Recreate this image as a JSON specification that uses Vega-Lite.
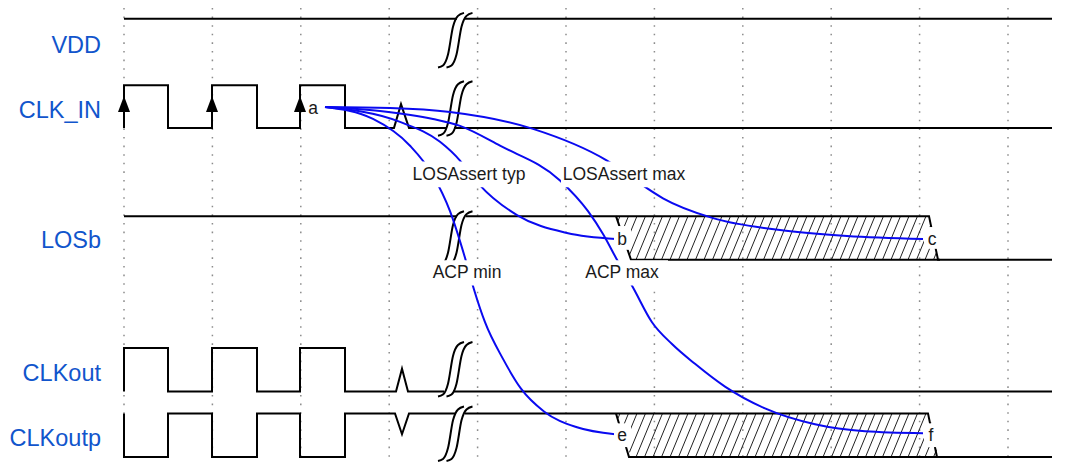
{
"$schema": "https://vega.github.io/schema/vega-lite/v6.json",
"width": 1088, "height": 465, "padding": 0,
"autosize": {"type": "fit", "contains": "padding"},
"background": "white",
"config": {"view": {"stroke": null}},
"datasets": {
"grid": [{"x":124,"y":8,"y2":465},{"x":212.4,"y":8,"y2":465},{"x":300.8,"y":8,"y2":465},{"x":389.2,"y":8,"y2":465},{"x":477.6,"y":8,"y2":465},{"x":566,"y":8,"y2":465},{"x":654.4,"y":8,"y2":465},{"x":742.8,"y":8,"y2":465},{"x":831.2,"y":8,"y2":465},{"x":919.6,"y":8,"y2":465},{"x":1008,"y":8,"y2":465}],
"hatch": [
{"x":620,"y":218,"x2":617.8,"y2":223.3},{"x":628.5,"y":218,"x2":621.7,"y2":234.7},{"x":637,"y":218,"x2":625.5,"y2":246},{"x":645.5,"y":218,"x2":629.4,"y2":257.3},
{"x":654,"y":218,"x2":636,"y2":262},{"x":662.5,"y":218,"x2":644.5,"y2":262},{"x":671,"y":218,"x2":653,"y2":262},{"x":679.5,"y":218,"x2":661.5,"y2":262},{"x":688,"y":218,"x2":670,"y2":262},{"x":696.5,"y":218,"x2":678.5,"y2":262},{"x":705,"y":218,"x2":687,"y2":262},{"x":713.5,"y":218,"x2":695.5,"y2":262},{"x":722,"y":218,"x2":704,"y2":262},{"x":730.5,"y":218,"x2":712.5,"y2":262},{"x":739,"y":218,"x2":721,"y2":262},{"x":747.5,"y":218,"x2":729.5,"y2":262},{"x":756,"y":218,"x2":738,"y2":262},{"x":764.5,"y":218,"x2":746.5,"y2":262},{"x":773,"y":218,"x2":755,"y2":262},{"x":781.5,"y":218,"x2":763.5,"y2":262},{"x":790,"y":218,"x2":772,"y2":262},{"x":798.5,"y":218,"x2":780.5,"y2":262},{"x":807,"y":218,"x2":789,"y2":262},{"x":815.5,"y":218,"x2":797.5,"y2":262},{"x":824,"y":218,"x2":806,"y2":262},{"x":832.5,"y":218,"x2":814.5,"y2":262},{"x":841,"y":218,"x2":823,"y2":262},{"x":849.5,"y":218,"x2":831.5,"y2":262},{"x":858,"y":218,"x2":840,"y2":262},{"x":866.5,"y":218,"x2":848.5,"y2":262},{"x":875,"y":218,"x2":857,"y2":262},{"x":883.5,"y":218,"x2":865.5,"y2":262},{"x":892,"y":218,"x2":874,"y2":262},{"x":900.5,"y":218,"x2":882.5,"y2":262},{"x":909,"y":218,"x2":891,"y2":262},{"x":917.5,"y":218,"x2":899.5,"y2":262},{"x":926,"y":218,"x2":908,"y2":262},
{"x":930.8,"y":227,"x2":916.5,"y2":262},{"x":933.7,"y":240.8,"x2":925,"y2":262},{"x":936.5,"y":254.7,"x2":933.5,"y2":262},
{"x":620,"y":417,"x2":617.8,"y2":422.3},{"x":628.5,"y":417,"x2":621.7,"y2":433.7},{"x":637,"y":417,"x2":625.5,"y2":445},{"x":645.5,"y":417,"x2":629.4,"y2":456.3},
{"x":654,"y":417,"x2":636,"y2":461},{"x":662.5,"y":417,"x2":644.5,"y2":461},{"x":671,"y":417,"x2":653,"y2":461},{"x":679.5,"y":417,"x2":661.5,"y2":461},{"x":688,"y":417,"x2":670,"y2":461},{"x":696.5,"y":417,"x2":678.5,"y2":461},{"x":705,"y":417,"x2":687,"y2":461},{"x":713.5,"y":417,"x2":695.5,"y2":461},{"x":722,"y":417,"x2":704,"y2":461},{"x":730.5,"y":417,"x2":712.5,"y2":461},{"x":739,"y":417,"x2":721,"y2":461},{"x":747.5,"y":417,"x2":729.5,"y2":461},{"x":756,"y":417,"x2":738,"y2":461},{"x":764.5,"y":417,"x2":746.5,"y2":461},{"x":773,"y":417,"x2":755,"y2":461},{"x":781.5,"y":417,"x2":763.5,"y2":461},{"x":790,"y":417,"x2":772,"y2":461},{"x":798.5,"y":417,"x2":780.5,"y2":461},{"x":807,"y":417,"x2":789,"y2":461},{"x":815.5,"y":417,"x2":797.5,"y2":461},{"x":824,"y":417,"x2":806,"y2":461},{"x":832.5,"y":417,"x2":814.5,"y2":461},{"x":841,"y":417,"x2":823,"y2":461},{"x":849.5,"y":417,"x2":831.5,"y2":461},{"x":858,"y":417,"x2":840,"y2":461},{"x":866.5,"y":417,"x2":848.5,"y2":461},{"x":875,"y":417,"x2":857,"y2":461},{"x":883.5,"y":417,"x2":865.5,"y2":461},{"x":892,"y":417,"x2":874,"y2":461},{"x":900.5,"y":417,"x2":882.5,"y2":461},{"x":909,"y":417,"x2":891,"y2":461},{"x":917.5,"y":417,"x2":899.5,"y2":461},{"x":926,"y":417,"x2":908,"y2":461},
{"x":930.8,"y":426,"x2":916.5,"y2":461},{"x":933.7,"y":439.8,"x2":925,"y2":461},{"x":936.5,"y":453.7,"x2":933.5,"y2":461}
],
"sig": [
{"s":"vdd1","i":0,"x":124,"y":19},{"s":"vdd1","i":1,"x":457,"y":19},
{"s":"vdd2","i":0,"x":465,"y":19},{"s":"vdd2","i":1,"x":1052,"y":19},
{"s":"clk1","i":0,"x":124,"y":129},{"s":"clk1","i":1,"x":124,"y":86},{"s":"clk1","i":2,"x":168,"y":86},{"s":"clk1","i":3,"x":168,"y":129},{"s":"clk1","i":4,"x":212,"y":129},{"s":"clk1","i":5,"x":212,"y":86},{"s":"clk1","i":6,"x":257,"y":86},{"s":"clk1","i":7,"x":257,"y":129},{"s":"clk1","i":8,"x":300,"y":129},{"s":"clk1","i":9,"x":300,"y":86},{"s":"clk1","i":10,"x":345,"y":86},{"s":"clk1","i":11,"x":345,"y":129},{"s":"clk1","i":12,"x":394,"y":129},{"s":"clk1","i":13,"x":401,"y":105},{"s":"clk1","i":14,"x":409,"y":129},{"s":"clk1","i":15,"x":446,"y":129},
{"s":"clk2","i":0,"x":454,"y":129},{"s":"clk2","i":1,"x":1052,"y":129},
{"s":"los1","i":0,"x":124,"y":218},{"s":"los1","i":1,"x":457,"y":218},
{"s":"los2","i":0,"x":466,"y":218},{"s":"los2","i":1,"x":929,"y":218},{"s":"los2","i":2,"x":938,"y":262},{"s":"los2","i":3,"x":1052,"y":262},
{"s":"los3","i":0,"x":616,"y":218},{"s":"los3","i":1,"x":631,"y":262},{"s":"los3","i":2,"x":940,"y":262},
{"s":"out1","i":0,"x":124,"y":395},{"s":"out1","i":1,"x":124,"y":351},{"s":"out1","i":2,"x":168,"y":351},{"s":"out1","i":3,"x":168,"y":395},{"s":"out1","i":4,"x":212,"y":395},{"s":"out1","i":5,"x":212,"y":351},{"s":"out1","i":6,"x":257,"y":351},{"s":"out1","i":7,"x":257,"y":395},{"s":"out1","i":8,"x":300,"y":395},{"s":"out1","i":9,"x":300,"y":351},{"s":"out1","i":10,"x":345,"y":351},{"s":"out1","i":11,"x":345,"y":395},{"s":"out1","i":12,"x":396,"y":395},{"s":"out1","i":13,"x":402,"y":372},{"s":"out1","i":14,"x":408,"y":395},{"s":"out1","i":15,"x":444,"y":395},
{"s":"out2","i":0,"x":453,"y":395},{"s":"out2","i":1,"x":1052,"y":395},
{"s":"outp1","i":0,"x":124,"y":417},{"s":"outp1","i":1,"x":124,"y":461},{"s":"outp1","i":2,"x":168,"y":461},{"s":"outp1","i":3,"x":168,"y":417},{"s":"outp1","i":4,"x":212,"y":417},{"s":"outp1","i":5,"x":212,"y":461},{"s":"outp1","i":6,"x":257,"y":461},{"s":"outp1","i":7,"x":257,"y":417},{"s":"outp1","i":8,"x":300,"y":417},{"s":"outp1","i":9,"x":300,"y":461},{"s":"outp1","i":10,"x":345,"y":461},{"s":"outp1","i":11,"x":345,"y":417},{"s":"outp1","i":12,"x":395,"y":417},{"s":"outp1","i":13,"x":402,"y":438},{"s":"outp1","i":14,"x":409,"y":417},{"s":"outp1","i":15,"x":456,"y":417},
{"s":"outp2","i":0,"x":465,"y":417},{"s":"outp2","i":1,"x":928,"y":417},{"s":"outp2","i":2,"x":937,"y":461},{"s":"outp2","i":3,"x":1052,"y":461},
{"s":"outp3","i":0,"x":616,"y":417},{"s":"outp3","i":1,"x":629,"y":461},{"s":"outp3","i":2,"x":939,"y":461}
],
"brk": [
{"b":"v1","i":0,"x":438,"y":68},{"b":"v1","i":1,"x":443,"y":66},{"b":"v1","i":2,"x":448,"y":55},{"b":"v1","i":3,"x":453,"y":27},{"b":"v1","i":4,"x":458,"y":16},{"b":"v1","i":5,"x":464,"y":13},
{"b":"v2","i":0,"x":446.5,"y":68},{"b":"v2","i":1,"x":451.5,"y":66},{"b":"v2","i":2,"x":456.5,"y":55},{"b":"v2","i":3,"x":461.5,"y":27},{"b":"v2","i":4,"x":466.5,"y":16},{"b":"v2","i":5,"x":472.5,"y":13},
{"b":"c1","i":0,"x":438,"y":137},{"b":"c1","i":1,"x":443,"y":135},{"b":"c1","i":2,"x":448,"y":124},{"b":"c1","i":3,"x":453,"y":96},{"b":"c1","i":4,"x":458,"y":85},{"b":"c1","i":5,"x":464,"y":82},
{"b":"c2","i":0,"x":446.5,"y":137},{"b":"c2","i":1,"x":451.5,"y":135},{"b":"c2","i":2,"x":456.5,"y":124},{"b":"c2","i":3,"x":461.5,"y":96},{"b":"c2","i":4,"x":466.5,"y":85},{"b":"c2","i":5,"x":472.5,"y":82},
{"b":"l1","i":0,"x":438,"y":268},{"b":"l1","i":1,"x":443,"y":266},{"b":"l1","i":2,"x":448,"y":255},{"b":"l1","i":3,"x":453,"y":227},{"b":"l1","i":4,"x":458,"y":216},{"b":"l1","i":5,"x":464,"y":213},
{"b":"l2","i":0,"x":446.5,"y":268},{"b":"l2","i":1,"x":451.5,"y":266},{"b":"l2","i":2,"x":456.5,"y":255},{"b":"l2","i":3,"x":461.5,"y":227},{"b":"l2","i":4,"x":466.5,"y":216},{"b":"l2","i":5,"x":472.5,"y":213},
{"b":"o1","i":0,"x":438,"y":400},{"b":"o1","i":1,"x":443,"y":398},{"b":"o1","i":2,"x":448,"y":387},{"b":"o1","i":3,"x":453,"y":359},{"b":"o1","i":4,"x":458,"y":348},{"b":"o1","i":5,"x":464,"y":345},
{"b":"o2","i":0,"x":446.5,"y":400},{"b":"o2","i":1,"x":451.5,"y":398},{"b":"o2","i":2,"x":456.5,"y":387},{"b":"o2","i":3,"x":461.5,"y":359},{"b":"o2","i":4,"x":466.5,"y":348},{"b":"o2","i":5,"x":472.5,"y":345},
{"b":"p1","i":0,"x":438,"y":465},{"b":"p1","i":1,"x":443,"y":463},{"b":"p1","i":2,"x":448,"y":452},{"b":"p1","i":3,"x":453,"y":424},{"b":"p1","i":4,"x":458,"y":413},{"b":"p1","i":5,"x":464,"y":410},
{"b":"p2","i":0,"x":446.5,"y":465},{"b":"p2","i":1,"x":451.5,"y":463},{"b":"p2","i":2,"x":456.5,"y":452},{"b":"p2","i":3,"x":461.5,"y":424},{"b":"p2","i":4,"x":466.5,"y":413},{"b":"p2","i":5,"x":472.5,"y":410}
],
"arrows": [{"x":124,"y":105},{"x":212,"y":105},{"x":300,"y":105}],
"curves": [
{"c":"max","i":0,"x":325,"y":108},{"c":"max","i":1,"x":390,"y":109},{"c":"max","i":2,"x":450,"y":113},{"c":"max","i":3,"x":533,"y":130},{"c":"max","i":4,"x":607,"y":162},{"c":"max","i":5,"x":624,"y":173},{"c":"max","i":6,"x":640,"y":185},{"c":"max","i":7,"x":663,"y":200},{"c":"max","i":8,"x":713,"y":220},{"c":"max","i":9,"x":780,"y":232},{"c":"max","i":10,"x":847,"y":238},{"c":"max","i":11,"x":923,"y":241},
{"c":"typ","i":0,"x":325,"y":108},{"c":"typ","i":1,"x":400,"y":123},{"c":"typ","i":2,"x":440,"y":143},{"c":"typ","i":3,"x":460,"y":162},{"c":"typ","i":4,"x":470,"y":175},{"c":"typ","i":5,"x":480,"y":187},{"c":"typ","i":6,"x":517,"y":217},{"c":"typ","i":7,"x":567,"y":235},{"c":"typ","i":8,"x":616,"y":241},
{"c":"acpmax","i":0,"x":325,"y":108},{"c":"acpmax","i":1,"x":380,"y":112},{"c":"acpmax","i":2,"x":433,"y":120},{"c":"acpmax","i":3,"x":460,"y":127},{"c":"acpmax","i":4,"x":500,"y":147},{"c":"acpmax","i":5,"x":560,"y":182},{"c":"acpmax","i":6,"x":588,"y":213},{"c":"acpmax","i":7,"x":603,"y":236},{"c":"acpmax","i":8,"x":617,"y":262},{"c":"acpmax","i":9,"x":633,"y":290},{"c":"acpmax","i":10,"x":652,"y":325},{"c":"acpmax","i":11,"x":672,"y":347},{"c":"acpmax","i":12,"x":695,"y":367},{"c":"acpmax","i":13,"x":725,"y":390},{"c":"acpmax","i":14,"x":765,"y":412},{"c":"acpmax","i":15,"x":815,"y":428},{"c":"acpmax","i":16,"x":865,"y":435},{"c":"acpmax","i":17,"x":923,"y":437},
{"c":"acpmin","i":0,"x":325,"y":108},{"c":"acpmin","i":1,"x":373,"y":120},{"c":"acpmin","i":2,"x":410,"y":147},{"c":"acpmin","i":3,"x":433,"y":177},{"c":"acpmin","i":4,"x":450,"y":213},{"c":"acpmin","i":5,"x":465,"y":260},{"c":"acpmin","i":6,"x":474,"y":292},{"c":"acpmin","i":7,"x":485,"y":325},{"c":"acpmin","i":8,"x":503,"y":362},{"c":"acpmin","i":9,"x":521,"y":392},{"c":"acpmin","i":10,"x":544,"y":415},{"c":"acpmin","i":11,"x":577,"y":431},{"c":"acpmin","i":12,"x":615,"y":438}
],
"boxes": [
{"x":409,"x2":529,"y":163,"y2":189},{"x":561,"x2":689,"y":163,"y2":189},
{"x":430,"x2":506,"y":262.5,"y2":288},{"x":580,"x2":668,"y":262.5,"y2":288},
{"x":614,"x2":631,"y":228,"y2":252},{"x":924,"x2":942,"y":229,"y2":251},
{"x":614,"x2":631,"y":427,"y2":451},{"x":924,"x2":942,"y":427,"y2":451}
],
"labels": [
{"t":"LOSAssert typ","x":469,"y":182},{"t":"LOSAssert max","x":624,"y":182},
{"t":"ACP min","x":467,"y":280},{"t":"ACP max","x":622,"y":280},
{"t":"a","x":313,"y":115},{"t":"b","x":622,"y":247},{"t":"c","x":932,"y":247},
{"t":"e","x":622,"y":445},{"t":"f","x":931,"y":445}
],
"names": [
{"t":"VDD","x":101,"y":53},{"t":"CLK_IN","x":101,"y":119},{"t":"LOSb","x":101,"y":250.5},{"t":"CLKout","x":101,"y":384},{"t":"CLKoutp","x":101,"y":450}
]
},
"encoding": {
"x": {"field":"x","type":"quantitative","scale":{"domain":[0,1088],"nice":false,"zero":false},"axis":null},
"y": {"field":"y","type":"quantitative","scale":{"domain":[0,465],"reverse":true,"nice":false,"zero":false},"axis":null}
},
"layer": [
{"data":{"name":"grid"},"mark":{"type":"rule","color":"#8c8c8c","strokeWidth":1.5,"strokeDash":[1.6,7]},
 "encoding":{"y2":{"field":"y2"}}},
{"data":{"name":"hatch"},"mark":{"type":"rule","color":"#222","strokeWidth":1},
 "encoding":{"x2":{"field":"x2"},"y2":{"field":"y2"}}},
{"data":{"name":"sig"},"mark":{"type":"line","color":"#000","strokeWidth":2,"strokeJoin":"miter"},
 "encoding":{"detail":{"field":"s"},"order":{"field":"i","type":"quantitative"}}},
{"data":{"name":"brk"},"mark":{"type":"line","color":"#000","strokeWidth":2,"interpolate":"monotone"},
 "encoding":{"detail":{"field":"b"},"order":{"field":"i","type":"quantitative"}}},
{"data":{"name":"arrows"},"mark":{"type":"point","shape":"M0,-1L0.75,1L-0.75,1Z","filled":true,"color":"#000","size":256,"opacity":1,"strokeWidth":0}},
{"data":{"name":"curves"},"mark":{"type":"line","color":"#0a0af0","strokeWidth":2,"interpolate":"monotone"},
 "encoding":{"detail":{"field":"c"},"order":{"field":"i","type":"quantitative"}}},
{"data":{"name":"boxes"},"mark":{"type":"rect","color":"white"},
 "encoding":{"x2":{"field":"x2"},"y2":{"field":"y2"}}},
{"data":{"name":"labels"},"mark":{"type":"text","font":"Liberation Sans","fontSize":17.5,"color":"#1a1a1a","align":"center","baseline":"alphabetic"},
 "encoding":{"text":{"field":"t"}}},
{"data":{"name":"names"},"mark":{"type":"text","font":"Liberation Sans","fontSize":23.5,"color":"#1155cc","align":"right","baseline":"alphabetic"},
 "encoding":{"text":{"field":"t"}}}
]
}
